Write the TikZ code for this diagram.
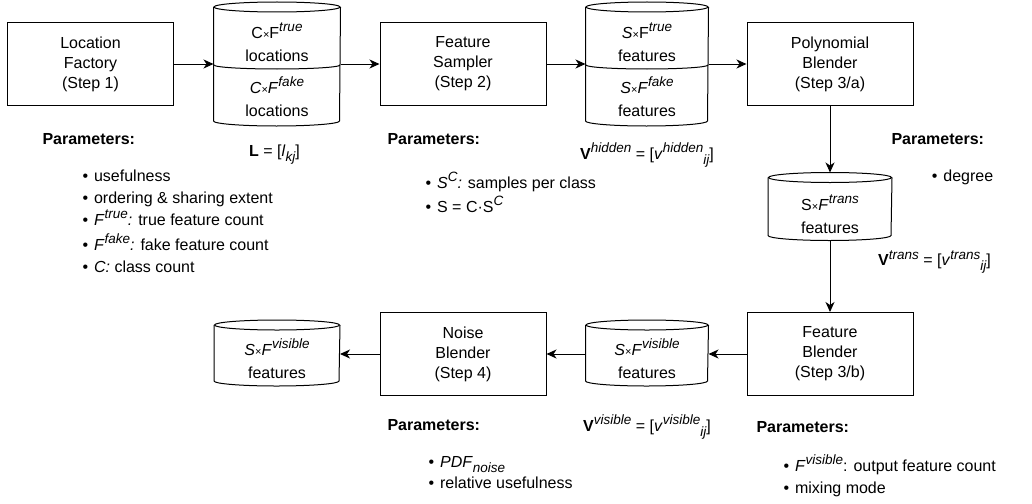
\documentclass[tikz,border=0pt]{standalone}
\usepackage{fontspec}
\setmainfont{Liberation Sans}
\usetikzlibrary{arrows.meta,positioning,calc}

% raised / lowered italic indices and a small times sign
\newcommand{\suptxt}[1]{\raisebox{0.42em}{\fontsize{13.5}{13.5}\selectfont\itshape #1}}
\newcommand{\subtxt}[1]{\raisebox{-0.3em}{\fontsize{13.5}{13.5}\selectfont\itshape #1}}
\newcommand{\crosssign}{{\fontsize{11}{11}\selectfont\upshape ×}}
% outline of a store node: name, half width
\newcommand{\storeoutline}[2]{%
    \draw ($(#1.north west)+(0,5)$) -- ($(#1.south west)+(0,-5)$)
        arc[start angle=180,end angle=0,x radius=#2,y radius=5]
        -- ($(#1.north east)+(0,5)$);
    \draw ($(#1.north)+(0,5)$) ellipse[x radius=#2,y radius=5];}

\begin{document}
\begin{tikzpicture}[x=1pt,y=-1pt,line width=1pt,>={Stealth[length=10pt,width=9pt,inset=3pt]},
    font=\fontsize{16}{20}\selectfont,
    stepbox/.style={draw,rectangle,minimum width=166pt,minimum height=83pt,align=center,inner sep=0pt},
    store/.style={rectangle,inner sep=0pt},
    storetxt/.style={align=center,inner sep=0pt,font=\fontsize{16}{23}\selectfont},
    paramhead/.style={anchor=west,inner sep=0pt,font=\fontsize{16}{20}\selectfont\bfseries},
    paramlist/.style={anchor=north west,align=left,inner sep=0pt,font=\fontsize{16}{22}\selectfont}]
    \useasboundingbox (0,0) rectangle (1032,503);

    % step 1 and the locations store
    \node[stepbox] (locfac) at (90.5,64) {Location\\Factory\\(Step 1)};
    \node[store,minimum width=126pt,minimum height=123pt] (locs) at (277,64) {};
    \storeoutline{locs}{63}
    \node[storetxt] (locstrue) at (277,42) {C\crosssign F\suptxt{true}\\locations};
    \node[storetxt] (locsfake) at (277,97) {\textit{C\crosssign F}\suptxt{fake}\\locations};
    \draw ($(locs.center)+(-63,1)$) arc[start angle=180,end angle=0,x radius=63,y radius=4];
    \node[paramhead] (locpar) at (42,139) {Parameters:};
    \node (locmat) at (274.5,155) {\textbf{L} = [\textit{l}\subtxt{kj}]};
    \node[paramlist] (loclist) at (82,169) {\textbullet\hspace{6pt}usefulness\\
        \textbullet\hspace{6pt}ordering \& sharing extent\\
        \textbullet\hspace{6pt}\textit{F}\suptxt{true}\textit{:} true feature count\\[3pt]
        \textbullet\hspace{6pt}\textit{F}\suptxt{fake}\textit{:} fake feature count\\
        \textbullet\hspace{6pt}\textit{C:} class count};

    % step 2 and the hidden features store
    \node[stepbox] (sampler) at (463,64) {Feature\\Sampler\\(Step 2)};
    \node[store,minimum width=122pt,minimum height=123pt] (hidfeat) at (647,64) {};
    \storeoutline{hidfeat}{61}
    \node[storetxt] (hidtrue) at (647,42) {\textit{S}\crosssign F\suptxt{true}\\features};
    \node[storetxt] (hidfake) at (647,97) {\textit{S\crosssign F}\suptxt{fake}\\features};
    \draw ($(hidfeat.center)+(-61,1)$) arc[start angle=180,end angle=0,x radius=61,y radius=4];
    \node[paramhead] (samppar) at (387,139) {Parameters:};
    \node (hidmat) at (647,155) {\textbf{V}\suptxt{hidden} = [\textit{v}\suptxt{hidden}\subtxt{ij}]};
    \node[paramlist] (samplist) at (425,172) {\textbullet\hspace{6pt}\textit{S}\suptxt{C}\textit{:} samples per class\\[2pt]
        \textbullet\hspace{6pt}S = C·S\suptxt{C}};

    % step 3/a and the transformed features store
    \node[stepbox] (polyblend) at (830,64) {Polynomial\\Blender\\(Step 3/a)};
    \node[store,minimum width=123pt,minimum height=67pt] (transfeat) at (830,206.5) {};
    \storeoutline{transfeat}{61.5}
    \node[storetxt] (transtxt) at (830,214) {S\crosssign\textit{F}\suptxt{trans}\\features};
    \node[paramhead] (polypar) at (891,139) {Parameters:};
    \node[anchor=west] (polylist) at (928,177) {\textbullet\hspace{6pt}degree};
    \node (transmat) at (934.5,262) {\textbf{V}\suptxt{trans} = [\textit{v}\suptxt{trans}\subtxt{ij}]};

    % step 3/b and the visible features store
    \node[stepbox] (featblend) at (830,354) {Feature\\Blender\\(Step 3/b)};
    \node[store,minimum width=122pt,minimum height=65pt] (visfeat) at (647,353) {};
    \storeoutline{visfeat}{61}
    \node[storetxt] (vistxt) at (647,359) {\textit{S\crosssign F}\suptxt{visible}\\features};
    \node (vismat) at (647,427) {\textbf{V}\suptxt{visible} = [\textit{v}\suptxt{visible}\subtxt{ij}]};
    \node[paramhead] (blendpar) at (756,427) {Parameters:};
    \node[paramlist] (blendlist) at (783,454) {\textbullet\hspace{6pt}\textit{F}\suptxt{visible}: output feature count\\
        \textbullet\hspace{6pt}mixing mode};

    % step 4 and the output store
    \node[stepbox] (noiseblend) at (463,354) {Noise\\Blender\\(Step 4)};
    \node[store,minimum width=125pt,minimum height=65pt] (outfeat) at (277,353) {};
    \storeoutline{outfeat}{62.5}
    \node[storetxt] (outtxt) at (277,359) {\textit{S\crosssign F}\suptxt{visible}\\features};
    \node[paramhead] (noisepar) at (387,425) {Parameters:};
    \node[paramlist] (noiselist) at (428,456) {\textbullet\hspace{6pt}\textit{PDF}\subtxt{noise}\\[-1pt]
        \textbullet\hspace{6pt}relative usefulness};

    % flow
    \draw[->] (locfac) -- (locs);
    \draw[->] (locs) -- (sampler);
    \draw[->] (sampler) -- (hidfeat);
    \draw[->] (hidfeat) -- (polyblend);
    \draw[->] (polyblend) -- (transfeat);
    \draw[->] (transfeat) -- (featblend);
    \draw[->] (featblend) -- (visfeat.east |- featblend);
    \draw[->] (visfeat.west |- noiseblend) -- (noiseblend);
    \draw[->] (noiseblend) -- (outfeat.east |- noiseblend);
\end{tikzpicture}
\end{document}
